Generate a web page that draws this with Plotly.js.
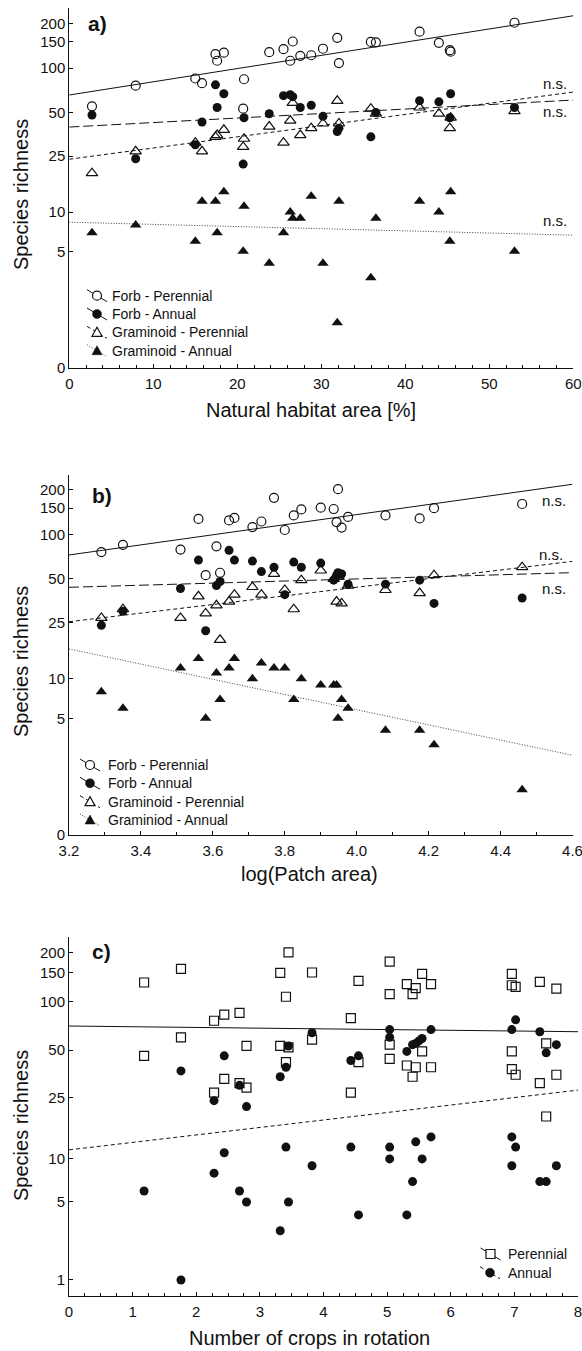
<!DOCTYPE html>
<html>
<head>
<meta charset="utf-8">
<script src="https://cdn.plot.ly/plotly-3.0.1.min.js"></script>
<style>html,body{margin:0;padding:0;background:#fff;}#chart{width:582px;height:1351px;}</style>
</head>
<body>
<div id="chart"></div>
<script>
// ---------------- DATA ----------------
// Panel a: natural habitat area [%]
const aSites = [2.7, 7.9, 15.0, 15.8, 17.4, 17.6, 18.4, 20.7, 20.8, 23.8, 25.5, 26.3, 26.6, 27.5, 28.8, 30.2, 31.9, 32.1, 35.9, 36.5, 41.7, 44.0, 45.3, 45.4, 53.0];
const aForbPer = [55, 76, 85, 79, 124, 112, 127, 53, 84, 128, 134, 112, 151, 121, 122, 135, 160, 108, 150, 149, 176, 148, 132, 129, 202];
const aForbAnn = [48, 24, 30, 43, 77, 54, 67, 22, 46, 49, 65, 66, 64, 54, 56, 47, 37, 39, 34, 50, 60, 59, 46, 67, 54];
const aGramPer = [19, 27, 31, 27, 34, 35, 38, 29, 33, 40, 31, 44, 58, 35, 39, 42, 60, 42, 53, 49, 54, 49, 39, 46, 51];
const aGramAnn = [7, 8, 6, 12, 12, 7, 14, 5, 11, 4, 7, 10, 9, 9, 13, 4, 1, 12, 3, 9, 12, 10, 6, 14, 5];
const aFitX = [0, 60];
const aFitForbPer = [65.7, 225];
const aFitForbAnn = [39.7, 60.7];
const aFitGramPer = [23.8, 68.8];
const aFitGramAnn = [8.4, 6.7];

// Panel b: log(Patch area)
const bSites = [3.29, 3.35, 3.51, 3.56, 3.58, 3.61, 3.62, 3.645, 3.66, 3.71, 3.735, 3.77, 3.80, 3.825, 3.846, 3.90, 3.936, 3.944, 3.948, 3.958, 3.976, 4.08, 4.175, 4.215, 4.46];
const bForbPer = [76, 85, 79, 127, 53, 83, 55, 124, 129, 112, 122, 176, 107, 134, 147, 151, 148, 121, 201, 111, 131, 134, 128, 150, 160];
const bForbAnn = [24, 30, 43, 67, 22, 45, 48, 78, 67, 66, 56, 60, 39, 65, 60, 64, 49, 53, 55, 54, 46, 46, 49, 34, 37];
const bGramPer = [27, 31, 27, 38, 29, 33, 19, 35, 39, 44, 39, 54, 42, 31, 49, 57, 50, 35, 52, 34, 45, 42, 40, 53, 60];
const bGramAnn = [8, 6, 12, 14, 5, 11, 7, 12, 14, 10, 13, 12, 12, 7, 10, 9, 9, 9, 5, 7, 6, 4, 4, 3, 1];
const bFitX = [3.2, 4.6];
const bFitForbPer = [72.6, 216.8];
const bFitForbAnn = [43.8, 55.1];
const bFitGramPer = [25.4, 65.7];
const bFitGramAnn = [16.4, 2.4];

// Panel c: number of crops in rotation
const cPerX = [1.18, 1.18, 1.76, 1.76, 2.28, 2.28, 2.44, 2.44, 2.68, 2.68, 2.79, 2.79, 3.32, 3.32, 3.41, 3.45, 3.45, 3.41, 3.82, 3.82, 4.43, 4.43, 4.55, 4.55, 5.04, 5.04, 5.04, 5.04, 5.31, 5.31, 5.45, 5.40, 5.45, 5.40, 5.55, 5.55, 5.69, 5.69, 6.96, 6.96, 7.02, 6.96, 6.96, 7.02, 7.40, 7.40, 7.50, 7.50, 7.66, 7.66];
const cPerY = [131, 46, 159, 60, 76, 27, 83, 33, 85, 31, 53, 29, 150, 53, 107, 201, 52, 42, 151, 58, 79, 27, 134, 42, 176, 111, 54, 44, 128, 40, 121, 111, 39, 34, 148, 49, 128, 39, 148, 126, 123, 49, 38, 35, 132, 31, 55, 19, 120, 35];
const cAnnX = [1.18, 1.76, 1.76, 2.28, 2.28, 2.44, 2.44, 2.68, 2.68, 2.79, 2.79, 3.32, 3.32, 3.41, 3.41, 3.45, 3.45, 3.82, 3.82, 4.43, 4.43, 4.55, 4.55, 5.04, 5.04, 5.04, 5.04, 5.31, 5.31, 5.40, 5.40, 5.45, 5.45, 5.50, 5.55, 5.55, 5.69, 5.69, 6.96, 6.96, 6.96, 7.02, 7.02, 7.40, 7.40, 7.50, 7.50, 7.66, 7.66];
const cAnnY = [6, 37, 1, 24, 8, 46, 11, 30, 6, 22, 5, 34, 3, 39, 12, 5, 53, 64, 9, 43, 12, 46, 4, 67, 60, 12, 10, 49, 4, 54, 7, 55, 13, 57, 59, 10, 67, 14, 67, 14, 9, 77, 12, 65, 7, 48, 7, 54, 9];
const cFitX = [0, 8];
const cFitPer = [70.5, 65];
const cFitAnn = [11.5, 28];

// Tick labels
const yTickAB = [0, 5, 10, 25, 50, 100, 150, 200];
const yTickC = [1, 5, 10, 25, 50, 100, 150, 200];

// ---------------- HELPERS ----------------
const W = 582, H = 1351;
const FONT = 'Liberation Sans, Arial, Helvetica, sans-serif';
const INK = '#111';
const p1 = arr => arr.map(v => v + 1);       // log(y+1) scale
const px = x => x / W;
const py = y => 1 - y / H;

function markers(x, y, sym, size, xa, ya) {
  const open = sym.indexOf('open') >= 0;
  return {
    type: 'scatter', mode: 'markers', x: x, y: p1(y), xaxis: xa, yaxis: ya,
    marker: { symbol: sym, size: size, color: INK, line: { color: INK, width: open ? 1.2 : 0 } },
    hoverinfo: 'x+text', text: y.map(String)
  };
}
function fit(x, y, dash, color, xa, ya) {
  return {
    type: 'scatter', mode: 'lines', x: x, y: p1(y), xaxis: xa, yaxis: ya,
    line: { color: color, width: 1, dash: dash }, hoverinfo: 'skip'
  };
}

const DASH = {
  solid: 'solid',
  long: '10px,4px',
  short: '4px,3px',
  dot: '1px,1.6px'
};

const data = [
  // a
  fit(aFitX, aFitForbPer, DASH.solid, INK, 'x', 'y'),
  fit(aFitX, aFitForbAnn, DASH.long, INK, 'x', 'y'),
  fit(aFitX, aFitGramPer, DASH.short, INK, 'x', 'y'),
  fit(aFitX, aFitGramAnn, DASH.dot, '#444', 'x', 'y'),
  markers(aSites, aGramAnn, 'triangle-up', 10, 'x', 'y'),
  markers(aSites, aForbAnn, 'circle', 9, 'x', 'y'),
  markers(aSites, aGramPer, 'triangle-up-open', 10, 'x', 'y'),
  markers(aSites, aForbPer, 'circle-open', 9, 'x', 'y'),
  // b
  fit(bFitX, bFitForbPer, DASH.solid, INK, 'x2', 'y2'),
  fit(bFitX, bFitForbAnn, DASH.long, INK, 'x2', 'y2'),
  fit(bFitX, bFitGramPer, DASH.short, INK, 'x2', 'y2'),
  fit(bFitX, bFitGramAnn, DASH.dot, '#444', 'x2', 'y2'),
  markers(bSites, bGramAnn, 'triangle-up', 10, 'x2', 'y2'),
  markers(bSites, bForbAnn, 'circle', 9, 'x2', 'y2'),
  markers(bSites, bGramPer, 'triangle-up-open', 10, 'x2', 'y2'),
  markers(bSites, bForbPer, 'circle-open', 9, 'x2', 'y2'),
  // c
  fit(cFitX, cFitPer, DASH.solid, INK, 'x3', 'y3'),
  fit(cFitX, cFitAnn, DASH.short, INK, 'x3', 'y3'),
  markers(cAnnX, cAnnY, 'circle', 9, 'x3', 'y3'),
  markers(cPerX, cPerY, 'square-open', 9, 'x3', 'y3')
];

const tickFont = { family: FONT, size: 15, color: INK };
function xAxis(domL, domR, range, dtick, minor, anchor, fmt) {
  return {
    domain: [px(domL), px(domR)], range: [range[0], range[1] + dtick * 1e-4], anchor: anchor,
    tickmode: 'linear', tick0: range[0], dtick: dtick, tickformat: fmt || '',
    ticks: 'inside', ticklen: 4, tickwidth: 1, tickcolor: INK, ticklabelstandoff: 2,
    ticklabeloverflow: 'allow',
    minor: { dtick: minor, tick0: range[0], ticks: 'inside', ticklen: 3, tickcolor: INK, showgrid: false },
    showline: true, linecolor: INK, linewidth: 1, showgrid: false, zeroline: false,
    tickfont: tickFont, fixedrange: true
  };
}
function yAxis(top, bottom, range, ticks, anchor) {
  return {
    domain: [py(bottom), py(top)], type: 'log', range: range, anchor: anchor,
    tickmode: 'array', tickvals: p1(ticks), ticktext: ticks.map(String),
    ticks: 'inside', ticklen: 4, tickwidth: 1, tickcolor: INK,
    showline: true, linecolor: INK, linewidth: 1, showgrid: false, zeroline: false,
    tickfont: tickFont, fixedrange: true
  };
}

const annotations = [];
const shapes = [];
function txt(text, x, y, opts) {
  annotations.push(Object.assign({
    text: text, xref: 'paper', yref: 'paper', x: px(x), y: py(y),
    showarrow: false, xanchor: 'center', yanchor: 'middle',
    font: { family: FONT, size: 15, color: INK }
  }, opts || {}));
}
// panel labels
txt('<b>a)</b>', 86, 24, { xanchor: 'left', font: { family: FONT, size: 21, color: INK } });
txt('<b>b)</b>', 90, 495, { xanchor: 'left', font: { family: FONT, size: 21, color: INK } });
txt('<b>c)</b>', 90, 952, { xanchor: 'left', font: { family: FONT, size: 21, color: INK } });
// axis titles
const titleFont = { family: FONT, size: 20, color: INK };
txt('Species richness', 21, 195, { textangle: -90, font: titleFont });
txt('Species richness', 21, 662, { textangle: -90, font: titleFont });
txt('Species richness', 21, 1126, { textangle: -90, font: titleFont });
txt('Natural habitat area [%]', 311, 410, { font: titleFont });
txt('log(Patch area)', 309, 874, { font: titleFont });
txt('Number of crops in rotation', 309, 1338, { font: titleFont });
// n.s. labels
[[555, 83], [555, 111.5], [555, 220.5], [554, 500], [550.5, 554], [554, 588]].forEach(p => txt('n.s.', p[0], p[1]));

// custom legends (Statistica style: diagonal line through marker)
function legendEntry(mx, tx, y, label, kind, dash, lineColor) {
  const base = { xref: 'paper', yref: 'paper', xsizemode: 'pixel', ysizemode: 'pixel', xanchor: px(mx), yanchor: py(y), layer: 'above' };
  shapes.push(Object.assign({ type: 'line', x0: -10, x1: 10, y0: 6, y1: -6, line: { color: lineColor, width: 1, dash: dash } }, base));
  if (kind === 'circle-open') shapes.push(Object.assign({ type: 'circle', x0: -4.5, x1: 4.5, y0: -4.5, y1: 4.5, fillcolor: '#fff', line: { color: INK, width: 1.2 } }, base));
  if (kind === 'circle') shapes.push(Object.assign({ type: 'circle', x0: -4.5, x1: 4.5, y0: -4.5, y1: 4.5, fillcolor: INK, line: { color: INK, width: 0.5 } }, base));
  if (kind === 'tri-open') shapes.push(Object.assign({ type: 'path', path: 'M-5,-4L5,-4L0,5Z', fillcolor: '#fff', line: { color: INK, width: 1.2 } }, base));
  if (kind === 'tri') shapes.push(Object.assign({ type: 'path', path: 'M-5,-4L5,-4L0,5Z', fillcolor: INK, line: { color: INK, width: 0.5 } }, base));
  if (kind === 'square-open') shapes.push(Object.assign({ type: 'rect', x0: -4.5, x1: 4.5, y0: -4.5, y1: 4.5, fillcolor: '#fff', line: { color: INK, width: 1.2 } }, base));
  txt(label, tx, y, { xanchor: 'left', font: { family: FONT, size: 14, color: INK } });
}
const legA = ['Forb - Perennial', 'Forb - Annual', 'Graminoid - Perennial', 'Graminoid - Annual'];
const legB = ['Forb - Perennial', 'Forb - Annual', 'Graminoid - Perennial', 'Graminiod - Annual'];
const legC = ['Perennial', 'Annual'];
const kinds = ['circle-open', 'circle', 'tri-open', 'tri'];
const dashes = [DASH.solid, DASH.solid, DASH.short, DASH.dot];
const lcol = [INK, INK, INK, '#444'];
[295.7, 314, 332.3, 350.7].forEach((y, i) => legendEntry(97, 110, y, legA[i], kinds[i], dashes[i], lcol[i]));
[765, 783.3, 801.7, 820].forEach((y, i) => legendEntry(90, 106, y, legB[i], kinds[i], dashes[i], lcol[i]));
legendEntry(490.5, 506, 1254, legC[0], 'square-open', DASH.solid, INK);
legendEntry(490, 506, 1272.7, legC[1], 'circle', DASH.short, INK);

const layout = {
  width: W, height: H, margin: { l: 0, r: 0, t: 0, b: 0 },
  paper_bgcolor: '#fff', plot_bgcolor: '#fff', showlegend: false,
  font: { family: FONT, color: INK },
  xaxis: xAxis(69.3, 573.3, [0, 60], 10, 2, 'y'),
  yaxis: yAxis(8.3, 367.7, [0, 2.404], yTickAB, 'x'),
  xaxis2: xAxis(69, 572.5, [3.2, 4.6], 0.2, 0.1, 'y2', '.1f'),
  yaxis2: yAxis(475, 835, [0, 2.40], yTickAB, 'x2'),
  xaxis3: xAxis(69, 578, [0, 8], 1, 0.25, 'y3'),
  yaxis3: yAxis(937.3, 1296.3, [0.2013, 2.397], yTickC, 'x3'),
  annotations: annotations, shapes: shapes
};

Plotly.newPlot('chart', data, layout, { staticPlot: true, displayModeBar: false });
</script>
</body>
</html>
